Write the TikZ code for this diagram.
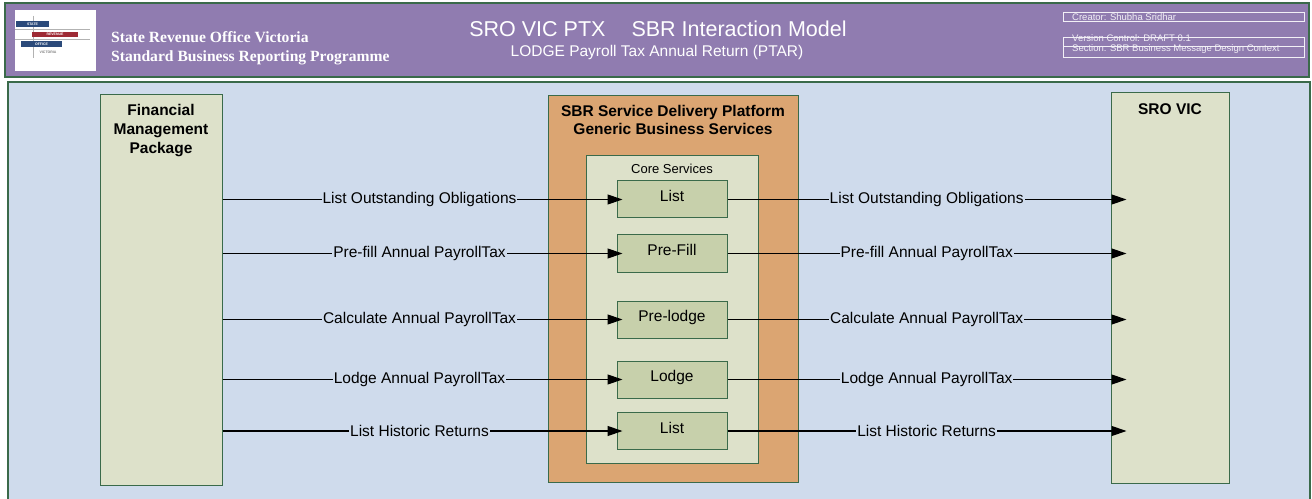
\documentclass[tikz,border=0pt]{standalone}
\usepackage{fontspec}
\setmainfont{Liberation Sans}
\newfontfamily\hdrserif{Liberation Serif}
\usetikzlibrary{arrows.meta, positioning}

\definecolor{hdrpurple}{HTML}{907CB0}
\definecolor{hdrline}{HTML}{F2F0F6}
\definecolor{panelblue}{HTML}{CFDBEC}
\definecolor{edgegreen}{HTML}{3A6A4A}
\definecolor{platorange}{HTML}{DBA572}
\definecolor{palegreen}{HTML}{DDE1CA}
\definecolor{svcgreen}{HTML}{C7D0AB}
\definecolor{logoblue}{HTML}{2B4A7A}
\definecolor{logored}{HTML}{9E2A35}

\begin{document}
\begin{tikzpicture}[x=1bp, y=-1bp,
  box/.style={draw=edgegreen, line width=1bp, inner sep=0pt},
  svc/.style={box, fill=svcgreen, minimum width=110bp, minimum height=37bp,
    text height=11.5bp, text depth=7bp, font=\fontsize{15.5bp}{18bp}\selectfont},
  boxtitle/.style={inner sep=0pt, align=center,
    font=\fontsize{15.5bp}{19bp}\selectfont\bfseries},
  msg/.style={line width=1.2bp, -{Triangle[length=15bp, width=10bp]}},
  lbl/.style={fill=panelblue, inner sep=1bp, font=\fontsize{15.5bp}{18bp}\selectfont},
  meta/.style={anchor=west, inner sep=0pt, text=hdrline,
    font=\fontsize{9.5bp}{10bp}\selectfont},
  logobar/.style={inner sep=0pt, text=white, font=\fontsize{3.5bp}{4bp}\selectfont\bfseries}
]
\useasboundingbox (0,0) rectangle (1312,499);
\fill[white] (0,0) rectangle (1312,499);

% Header
\draw[fill=hdrpurple, draw=edgegreen, line width=1.2bp] (5,3) rectangle (1309,77);

% Logo
\fill[white] (15,10) rectangle (96,71);
\draw[gray!60, line width=0.4bp] (15,29) -- (90,29);
\draw[gray!60, line width=0.4bp] (15,39) -- (90,39);
\draw[gray!60, line width=0.4bp] (33,16) -- (33,58);
\fill[logoblue] (16,21) rectangle (49,27);
\fill[logored] (32,32) rectangle (78,37);
\fill[logoblue] (21,41) rectangle (62,47);
\node[logobar] (lstate) at (32.5,24) {STATE};
\node[logobar] (lrev) at (55,34.5) {REVENUE};
\node[logobar] (loff) at (41.5,44) {OFFICE};
\node[logobar, text=gray] (lvic) at (48,52) {VICTORIA};

\node[anchor=west, inner sep=0pt, text=white, align=left,
  font=\fontsize{15.6bp}{19bp}\selectfont\hdrserif\bfseries] (org) at (111,48.5)
  {State Revenue Office Victoria\\Standard Business Reporting Programme};

\node[inner sep=0pt, text=white, font=\fontsize{21.5bp}{24bp}\selectfont] (title) at (658,29)
  {SRO VIC PTX\hspace{26bp}SBR Interaction Model};
\node[inner sep=0pt, text=white, font=\fontsize{15.5bp}{18bp}\selectfont] (subtitle) at (657,52)
  {LODGE Payroll Tax Annual Return (PTAR)};

\draw[hdrline, line width=0.8bp] (1063,12) rectangle (1304,21);
\draw[hdrline, line width=0.8bp] (1063,37) rectangle (1304,46);
\draw[hdrline, line width=0.8bp] (1063,46) rectangle (1304,57);
\node[meta] (creator) at (1072,17) {Creator: Shubha Sridhar};
\node[meta] (version) at (1072,38) {Version Control: DRAFT 0.1};
\node[meta] (section) at (1072,49) {Section: SBR Business Message Design Context};

% Panel
\fill[panelblue] (8,82) rectangle (1310,505);
\draw[edgegreen, line width=1.5bp] (8,505) -- (8,82) -- (1310,82) -- (1310,505);

% Boxes
\node[box, fill=palegreen, minimum width=122bp, minimum height=390bp] (fmp) at (161,290) {};
\node[boxtitle, below=10bp of fmp.north] (fmptitle) {Financial\\Management\\Package};

\node[box, fill=palegreen, minimum width=118bp, minimum height=390bp] (sro) at (1170,288) {};
\node[boxtitle, below=11bp of sro.north] (srotitle) {SRO VIC};

\node[box, fill=platorange, minimum width=250bp, minimum height=386bp] (sdp) at (673,289) {};
\node[boxtitle, below=10bp of sdp.north, font=\fontsize{15.5bp}{18bp}\selectfont\bfseries] (sdptitle)
  {SBR Service Delivery Platform\\Generic Business Services};

\node[box, fill=palegreen, minimum width=172bp, minimum height=307bp] (core) at (672,309.5) {};
\node[inner sep=0pt, below=8bp of core.north, font=\fontsize{13bp}{15bp}\selectfont] (coretitle) {Core Services};

\node[svc] (list1) at (672,199.5) {List};
\node[svc] (prefill) at (672,253.5) {Pre-Fill};
\node[svc] (prelodge) at (672,319.5) {Pre-lodge};
\node[svc] (lodge) at (672,379.5) {Lodge};
\node[svc] (list2) at (672,431) {List};

% Arrows in
\draw[msg, shorten >=-6bp] (fmp.east |- list1) -- (list1.west) node[lbl, midway] {List Outstanding Obligations};
\draw[msg, shorten >=-6bp] (fmp.east |- prefill) -- (prefill.west) node[lbl, midway] {Pre-fill Annual PayrollTax};
\draw[msg, shorten >=-6bp] (fmp.east |- prelodge) -- (prelodge.west) node[lbl, midway] {Calculate Annual PayrollTax};
\draw[msg, shorten >=-6bp] (fmp.east |- lodge) -- (lodge.west) node[lbl, midway] {Lodge Annual PayrollTax};
\draw[msg, shorten >=-6bp] (fmp.east |- list2) -- (list2.west) node[lbl, midway] {List Historic Returns};

% Arrows out
\draw[msg, shorten >=-16bp] (list1.east) -- (list1 -| sro.west) node[lbl, pos=0.52] {List Outstanding Obligations};
\draw[msg, shorten >=-16bp] (prefill.east) -- (prefill -| sro.west) node[lbl, pos=0.52] {Pre-fill Annual PayrollTax};
\draw[msg, shorten >=-16bp] (prelodge.east) -- (prelodge -| sro.west) node[lbl, pos=0.52] {Calculate Annual PayrollTax};
\draw[msg, shorten >=-16bp] (lodge.east) -- (lodge -| sro.west) node[lbl, pos=0.52] {Lodge Annual PayrollTax};
\draw[msg, shorten >=-16bp] (list2.east) -- (list2 -| sro.west) node[lbl, pos=0.52] {List Historic Returns};

\end{tikzpicture}
\end{document}
